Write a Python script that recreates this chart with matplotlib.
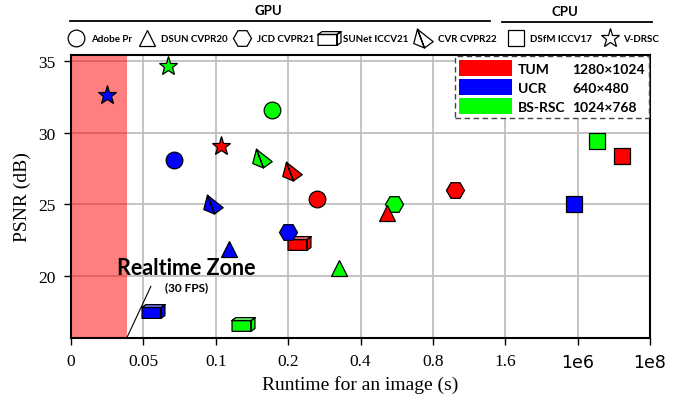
import numpy as np
import matplotlib
matplotlib.use("Agg")
import matplotlib.pyplot as plt
from matplotlib.path import Path
from matplotlib.lines import Line2D
from matplotlib.patches import Patch
from matplotlib.colors import to_rgb
from matplotlib.scale import FuncScale

# x axis is a piecewise scale: equal spacing between these runtimes
tick_vals = [0, 0.05, 0.1, 0.2, 0.4, 0.8, 1.6, 1e6, 1e8]
tick_labels = ["0", "0.05", "0.1", "0.2", "0.4", "0.8", "1.6", "1e6", "1e8"]

methods = ["Adobe Pr", "DSUN CVPR20", "JCD CVPR21", "SUNet ICCV21", "CVR CVPR22", "DSfM ICCV17", "V-DRSC"]
datasets = ["TUM", "UCR", "BS-RSC"]
resolutions = ["1280\u00d71024", "640\u00d7480", "1024\u00d7768"]

# runtime (s) and PSNR (dB), same order as methods
runtime_tum = [0.28, 0.545, 1.04, 0.23, 0.21, 6.2e7, 0.107]
psnr_tum = [25.35, 24.4, 26.0, 22.3, 27.3, 28.4, 29.1]
runtime_ucr = [0.071, 0.118, 0.2, 0.0566, 0.098, 9.5e5, 0.025]
psnr_ucr = [28.1, 21.9, 23.05, 17.6, 25.0, 25.0, 32.6]
runtime_bsrsc = [0.178, 0.34, 0.585, 0.138, 0.164, 2.8e7, 0.067]
psnr_bsrsc = [31.6, 20.6, 25.0, 16.7, 28.25, 29.4, 34.6]

realtime_limit = 0.0385


def poly_path(*polys):
    verts, codes = [], []
    for p in polys:
        verts += list(p) + [p[0]]
        codes += [Path.MOVETO] + [Path.LINETO] * (len(p) - 1) + [Path.CLOSEPOLY]
    return Path(verts, codes)


cube_front = [(-1, -0.6), (0.65, -0.6), (0.65, 0.35), (-1, 0.35)]
cube_top = [(-1, 0.35), (0.65, 0.35), (1, 0.6), (-0.65, 0.6)]
cube_side = [(0.65, -0.6), (1, -0.35), (1, 0.6), (0.65, 0.35)]
cube = poly_path(cube_front, cube_top, cube_side)
# same extent as the whole cube so it scales identically
cube_top_only = poly_path(cube_top, [(1, -0.6), (1, -0.6), (1, -0.6)])
apex, right, bottom, left = (-0.62, 0.95), (1, -0.33), (0.1, -0.97), (-1, -0.52)
pyramid = poly_path([apex, bottom, left], [apex, right, bottom])

markers = ["o", "^", "H", cube, pyramid, "s", "*"]
msizes = [12, 11, 13, 16.5, 14, 11.5, 14]
zorders = [4, 5, 4.5, 4, 4, 4, 4]
colors = ["#ff0000", "#0000ff", "#00ff00"]

runtimes = [runtime_tum, runtime_ucr, runtime_bsrsc]
psnrs = [psnr_tum, psnr_ucr, psnr_bsrsc]

serif = "Liberation Serif"
sans = "Lato"

fig = plt.figure(figsize=(6.85, 4.02), dpi=100)
ax = fig.add_axes([71 / 685, 1 - 339 / 402, 579 / 685, 283 / 402])

pos = np.arange(len(tick_vals))
ax.set_xscale(FuncScale(ax, (lambda x: np.interp(x, tick_vals, pos),
                             lambda p: np.interp(p, pos, tick_vals))))
ax.set_xlim(0, 1e8)
ax.set_ylim(15.7, 35.4)

ax.set_axisbelow(True)
ax.grid(True, color="#bfbfbf", lw=1.3)
ax.axvspan(0, realtime_limit, color="red", alpha=0.5, lw=0, zorder=1)

for d in range(len(datasets)):
    for m in range(len(methods)):
        ax.plot(runtimes[d][m], psnrs[d][m], ls="none", marker=markers[m], ms=msizes[m],
                mfc=colors[d], mec="black", mew=0.9, zorder=zorders[m])
        if markers[m] is cube:
            light = 0.55 * np.array(to_rgb(colors[d])) + 0.45
            ax.plot(runtimes[d][m], psnrs[d][m], ls="none", marker=cube_top_only, ms=msizes[m],
                    mfc=light, mec="black", mew=0.9, zorder=zorders[m] + 0.01)

ax.set_xticks(tick_vals)
ax.set_xticklabels(tick_labels)
ax.set_yticks([20, 25, 30, 35])
ax.tick_params(direction="out", length=5, width=1, pad=6, labelsize=12.5)
for lab in ax.get_xticklabels() + ax.get_yticklabels():
    lab.set_family(serif)
for lab in ax.get_xticklabels()[-2:]:
    lab.set_family("DejaVu Sans")
    lab.set_fontsize(12.5)
for s in ax.spines.values():
    s.set_linewidth(1.5)

ax.set_xlabel("Runtime for an image (s)", family=serif, fontsize=14, labelpad=3)
ax.set_ylabel("PSNR (dB)", family=serif, fontsize=14, labelpad=5)

# realtime zone annotation
ax.text(0.199, 0.248, "Realtime Zone", transform=ax.transAxes, ha="center", va="center",
        family=sans, weight="bold", fontsize=15.5)
ax.text(0.200, 0.182, "(30 FPS)", transform=ax.transAxes, ha="center", va="center",
        family=sans, weight="bold", fontsize=8.5)
ax.annotate("", xy=(realtime_limit, 15.7), xytext=(0.0552, 19.3),
            arrowprops=dict(arrowstyle="-", color="black", lw=0.8, shrinkA=0, shrinkB=0))

# dataset legend
handles = [Patch(facecolor=c, edgecolor="none") for c in colors]
handles += [Patch(facecolor="none", edgecolor="none") for _ in colors]
leg = ax.legend(handles, datasets + resolutions, ncol=2, loc="upper right",
                bbox_to_anchor=(1.0, 1.0), borderaxespad=0.1, borderpad=0.25,
                handlelength=3.8, handleheight=1.45, handletextpad=0.45,
                labelspacing=0.18, columnspacing=-3.75, fancybox=False,
                framealpha=1, edgecolor="#444444",
                prop=dict(family=sans, weight="bold", size=10))
leg.get_frame().set_linestyle((0, (4, 2.5)))
leg.get_frame().set_linewidth(1)
leg.set_zorder(10)

# method legend on top (GPU / CPU groups)
mhandles = [Line2D([], [], ls="none", marker=markers[m], ms=msizes[m], mfc="white",
                   mec="black", mew=0.9) for m in range(len(methods))]
lprop = dict(family=sans, weight="bold", size=7)
fig.legend(mhandles[:5], methods[:5], loc="center left", bbox_to_anchor=(66 / 685, 1 - 40 / 402),
           ncol=5, frameon=False, prop=lprop, handlelength=2.1, handletextpad=0.45,
           columnspacing=0.45, borderpad=0, borderaxespad=0)
fig.legend(mhandles[5:], methods[5:], loc="center left", bbox_to_anchor=(506 / 685, 1 - 40 / 402),
           ncol=2, frameon=False, prop=lprop, handlelength=2.1, handletextpad=0.35,
           columnspacing=0.8, borderpad=0, borderaxespad=0)

fig.text(268 / 685, 1 - 11 / 402, "GPU", ha="center", va="center", family=sans, weight="bold", fontsize=9.5)
fig.text(565 / 685, 1 - 12 / 402, "CPU", ha="center", va="center", family=sans, weight="bold", fontsize=9.5)
fig.add_artist(Line2D([70 / 685, 490 / 685], [1 - 22 / 402] * 2, color="black", lw=1.3))
fig.add_artist(Line2D([502 / 685, 652 / 685], [1 - 22.5 / 402] * 2, color="black", lw=1.3))

fig.savefig("out.png", dpi=100)
